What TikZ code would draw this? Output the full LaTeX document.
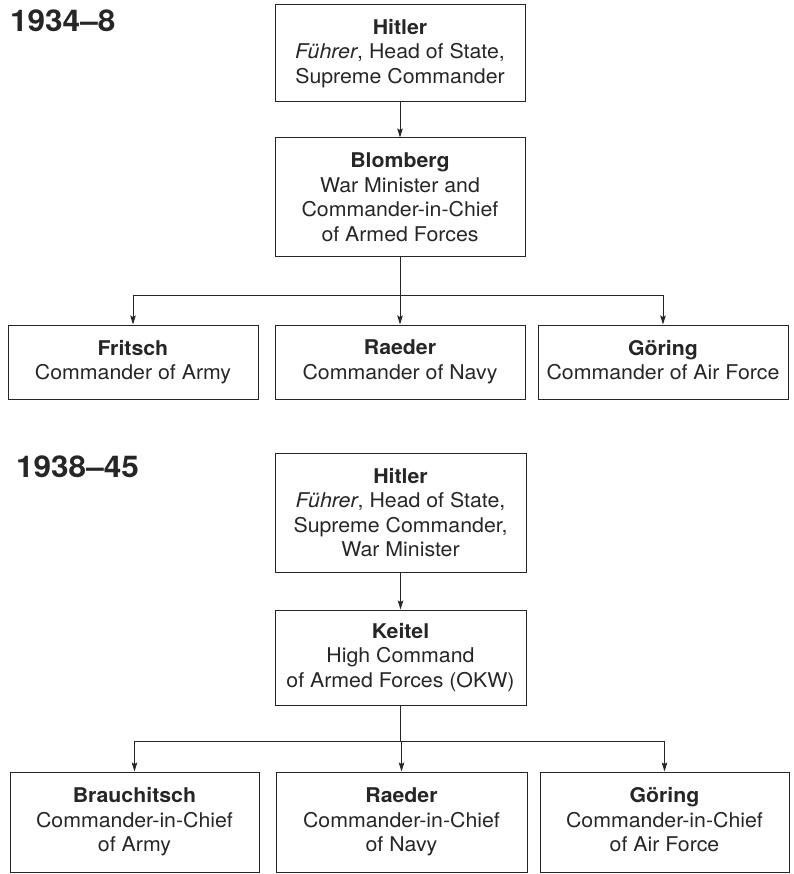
\documentclass[tikz,border=0pt]{standalone}
\usepackage{fontspec}
\setmainfont{TeX Gyre Heros}[FakeStretch=1.05]
\usetikzlibrary{arrows.meta}
\definecolor{ink}{HTML}{262626}
\begin{document}
\begin{tikzpicture}[x=1pt,y=1pt,
  box/.style={draw=ink,line width=1pt,rectangle,inner sep=0pt,align=center,
    text=ink,font=\fontsize{20.3}{24.5}\selectfont},
  arr/.style={draw=ink,line width=1pt,-{Stealth[length=9pt,width=5.5pt,inset=1.5pt]}},
  conn/.style={draw=ink,line width=1pt},
  period/.style={anchor=base west,inner sep=0pt,text=ink,font=\fontsize{30}{36}\selectfont\bfseries}]
\useasboundingbox (0,0) rectangle (793,-874);
% ---------- 1934-8 ----------
\node[period] (t1) at (10,-32) {1934–8};
\node[box,minimum width=250pt,minimum height=97pt] (h1) at (400,-53.5)
  {\textbf{Hitler}\\\textit{Führer}, Head of State,\\Supreme Commander};
\node[box,minimum width=250pt,minimum height=119pt] (b1) at (400,-197.5)
  {\textbf{Blomberg}\\War Minister and\\Commander-in-Chief\\of Armed Forces};
\node[box,minimum width=250pt,minimum height=74pt] (f1) at (133,-362)
  {\textbf{Fritsch}\\Commander of Army};
\node[box,minimum width=250pt,minimum height=74pt] (r1) at (400,-362)
  {\textbf{Raeder}\\Commander of Navy};
\node[box,minimum width=250pt,minimum height=74pt] (g1) at (663,-362)
  {\textbf{G\smash{ö}ring}\\Commander of Air Force\vphantom{y}};
\coordinate (j1) at (400,-295);
\draw[arr] (h1) -- (b1);
\draw[conn] (b1) -- (j1);
\draw[arr] (j1) -| (f1);
\draw[arr] (j1) -- (r1);
\draw[arr] (j1) -| (g1);
% ---------- 1938-45 ----------
\node[period] (t2) at (16,-477) {1938–45};
\node[box,minimum width=251pt,minimum height=119pt] (h2) at (400.5,-512.5)
  {\textbf{Hitler}\\\textit{Führer}, Head of State,\\Supreme Commander,\\War Minister};
\node[box,minimum width=251pt,minimum height=95pt] (k2) at (400.5,-657.5)
  {\textbf{Keitel}\\High Command\\of Armed Forces (OKW)};
\node[box,minimum width=249pt,minimum height=100pt] (br2) at (134.5,-822)
  {\textbf{Brauchitsch}\\Commander-in-Chief\\of Army};
\node[box,minimum width=251pt,minimum height=100pt] (r2) at (401.5,-822)
  {\textbf{Raeder}\\Commander-in-Chief\\of Navy};
\node[box,minimum width=249pt,minimum height=100pt] (g2) at (664.5,-822)
  {\textbf{G\smash{ö}ring}\\Commander-in-Chief\\of Air Force\vphantom{y}};
\coordinate (j2) at (400.5,-741);
\draw[arr] (h2) -- (k2);
\draw[conn] (k2) -- (j2);
\draw[arr] (j2) -| (br2);
\draw[arr] (j2) -| (r2);
\draw[arr] (j2) -| (g2);
\end{tikzpicture}
\end{document}
